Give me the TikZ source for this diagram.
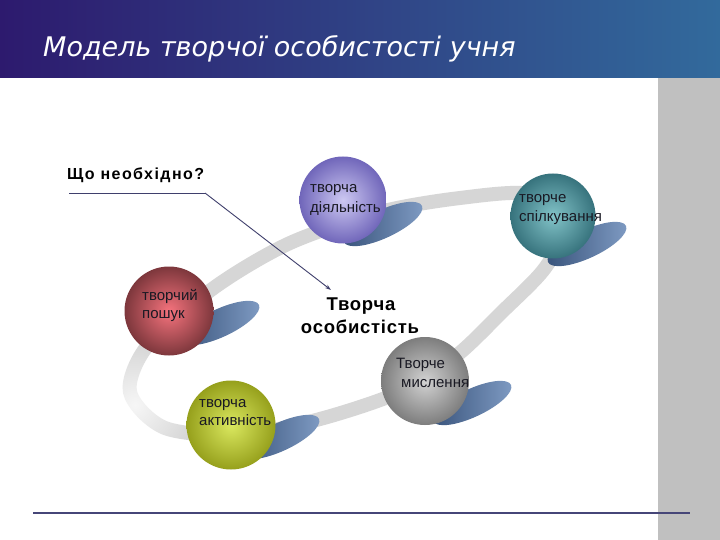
\documentclass[tikz,border=0pt]{standalone}
\usepackage{fontspec}
\setmainfont{Liberation Sans}
\newfontfamily\ttlfont{DejaVu Sans}
\usetikzlibrary{fadings,arrows.meta}
\definecolor{barL}{RGB}{45,26,110}
\definecolor{barR}{RGB}{50,106,156}
\definecolor{sidegray}{RGB}{192,192,192}
\definecolor{lineblue}{RGB}{70,70,120}
\definecolor{ringc}{RGB}{214,214,214}
\definecolor{shdA}{RGB}{55,82,122}
\definecolor{shdB}{RGB}{128,156,196}
\definecolor{redin}{RGB}{245,115,125}
\definecolor{redout}{RGB}{125,55,60}
\definecolor{purin}{RGB}{205,200,242}
\definecolor{purout}{RGB}{112,102,186}
\definecolor{tealin}{RGB}{130,195,200}
\definecolor{tealout}{RGB}{55,115,125}
\definecolor{grayin}{RGB}{210,210,210}
\definecolor{grayout}{RGB}{125,125,125}
\definecolor{grnin}{RGB}{218,232,95}
\definecolor{grnout}{RGB}{150,160,28}
\definecolor{txt}{RGB}{25,25,35}
\tikzfading[name=fuzzcirc, inner color=transparent!20, outer color=transparent!100]
\begin{document}
\begin{tikzpicture}[x=1pt,y=-1pt,
  ball/.style={circle, minimum size=89pt, inner sep=0pt},
  shd/.style={left color=shdA, right color=shdB},
  lbl/.style={font=\fontsize{15}{18}\selectfont, text=txt, inner sep=0pt, anchor=base west},
  bigl/.style={font=\fontsize{18.5}{22}\selectfont\bfseries\addfontfeature{LetterSpace=4}, text=black, inner sep=0pt, anchor=base}]
\useasboundingbox (0,0) rectangle (720,540);
\fill[white] (0,0) rectangle (720,540);
% title bar
\shade[left color=barL, right color=barR] (0,0) rectangle (720,78);
\node[font=\ttlfont\itshape\fontsize{27}{30}\selectfont, text=white, inner sep=0pt, anchor=base west] (title) at (43,57) {Модель творчої особистості учня};
% side bar
\fill[sidegray] (658,78) rectangle (720,540);
% ring
\draw[ringc, line width=14pt] plot[smooth cycle] coordinates {(130,392) (148,345) (215,287) (290,243) (380,212) (460,198) (530,194) (567,222) (545,268) (502,312) (456,356) (400,392) (320,419) (240,435) (165,428)};
\fill[white, path fading=fuzzcirc] (135,405) circle (62);
% shadows
\foreach \cx/\cy in {220/323, 383/224, 587/244, 472/403, 280/437}{
  \coordinate (sc) at (\cx,\cy);
  \shade[shd, rotate around={25:(sc)}] (sc) ellipse (43 and 14);
}
% spheres
\node[ball, inner color=redin, outer color=redout] (poshuk) at (169,311) {};
\node[ball, inner color=purin, outer color=purout, minimum size=87pt] (diyal) at (343,200) {};
\node[ball, inner color=tealin, outer color=tealout, minimum size=85pt] (spilk) at (553,216) {};
\node[ball, inner color=grayin, outer color=grayout, minimum size=88pt] (mysl) at (425,381) {};
\node[ball, inner color=grnin, outer color=grnout] (aktyv) at (231,425) {};
% labels
\node[lbl] (l1a) at (142,300) {творчий};
\node[lbl] (l1b) at (142,318) {пошук};
\node[lbl] (l2a) at (310,193) {творча};
\node[lbl] (l2b) at (310,213) {діяльність};
\node[lbl] (l3a) at (519,203) {творче};
\node[lbl] (l3b) at (519,222) {спілкування};
\node[lbl] (l4a) at (396,368) {Творче};
\node[lbl] (l4b) at (401,387) {мислення};
\node[lbl] (l5a) at (199,407) {творча};
\node[lbl] (l5b) at (199,425) {активність};
% centre
\node[bigl] (c1) at (361,310) {Творча};
\node[bigl] (c2) at (360,333) {особистість};
% question
\node[font=\fontsize{16}{19}\selectfont\bfseries\addfontfeature{LetterSpace=9}, inner sep=0pt, anchor=base west] (q) at (67,180) {Що необхідно?};
\coordinate (u1) at (69,193);
\coordinate (u2) at (205,193);
\coordinate (tip) at (331,290);
\draw[lineblue!90!black, line width=0.9pt] (u1) -- (u2);
\draw[lineblue!90!black, line width=0.9pt, -{Stealth[length=6pt,width=4pt]}] (u2) -- (tip);
% bottom line
\coordinate (b1) at (33,513);
\coordinate (b2) at (690,513);
\draw[lineblue, line width=1.6pt] (b1) -- (b2);
\end{tikzpicture}
\end{document}
